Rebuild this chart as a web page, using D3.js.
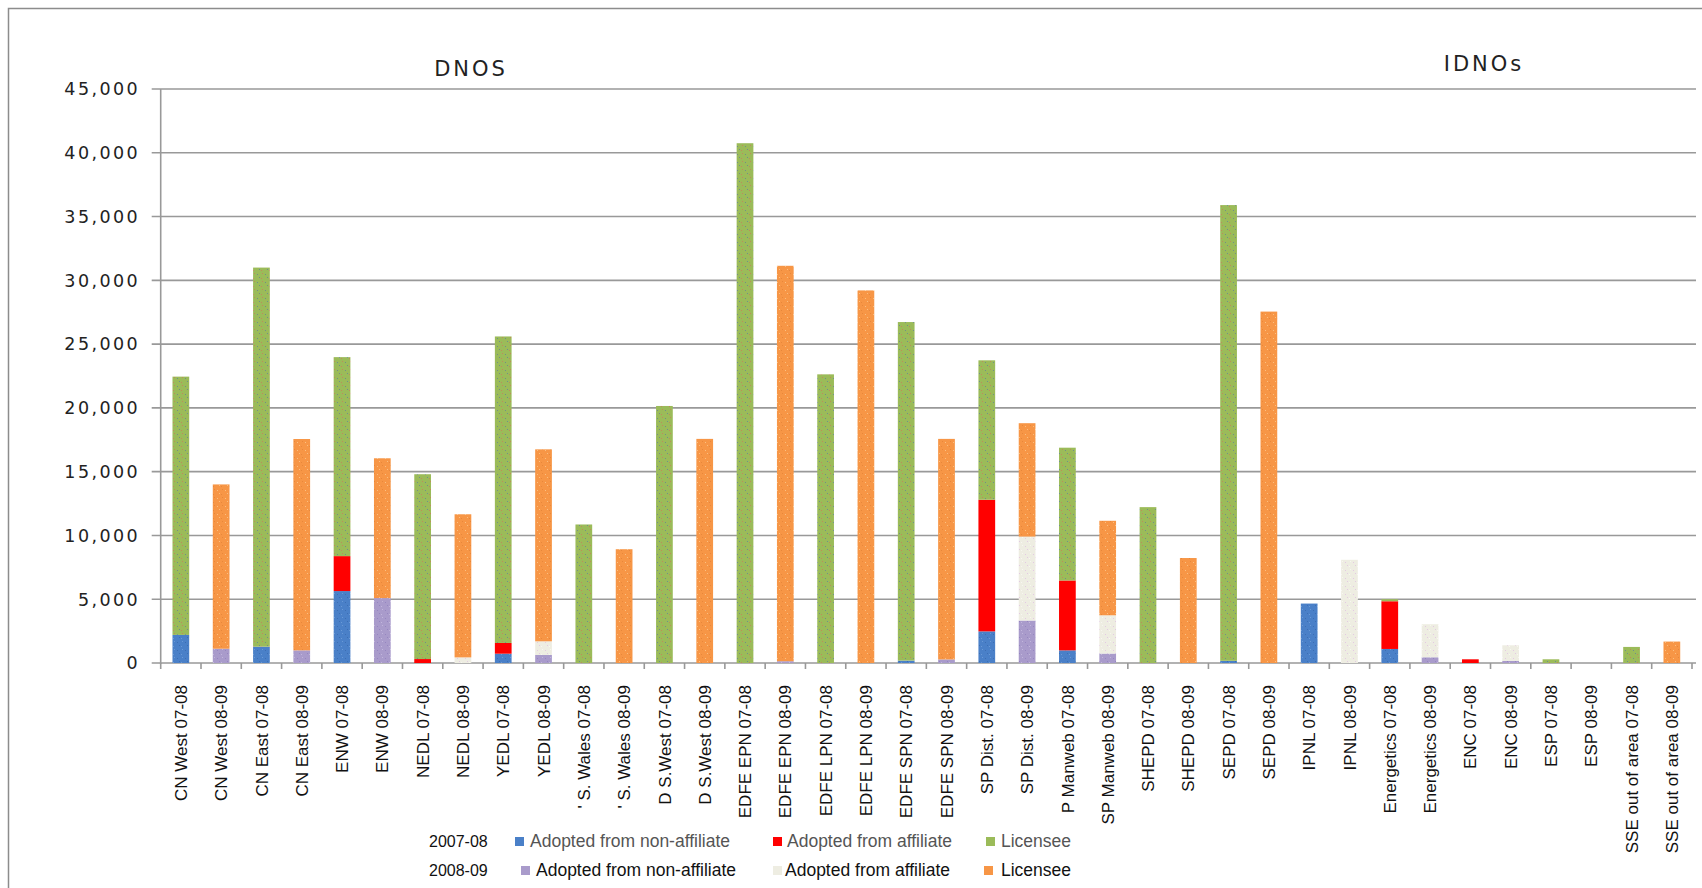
<!DOCTYPE html>
<html>
<head>
<meta charset="utf-8">
<script src="https://cdn.jsdelivr.net/npm/d3@7/dist/d3.min.js"></script>
<style>
  html, body { margin: 0; padding: 0; background: #fff; }
  svg { display: block; }
</style>
</head>
<body>
<svg id="chart" width="1702" height="888"></svg>
<script>
// ---------- DATA ----------
const categories = [
  "CN West 07-08", "CN West 08-09", "CN East 07-08", "CN East 08-09", "ENW 07-08",
  "ENW 08-09", "NEDL 07-08", "NEDL 08-09", "YEDL 07-08", "YEDL 08-09",
  "' S. Wales 07-08", "' S. Wales 08-09", "D S.West 07-08", "D S.West 08-09", "EDFE EPN 07-08",
  "EDFE EPN 08-09", "EDFE LPN 07-08", "EDFE LPN 08-09", "EDFE SPN 07-08", "EDFE SPN 08-09",
  "SP Dist. 07-08", "SP Dist. 08-09", "P Manweb 07-08", "SP Manweb 08-09", "SHEPD 07-08",
  "SHEPD 08-09", "SEPD 07-08", "SEPD 08-09", "IPNL 07-08", "IPNL 08-09",
  "Energetics 07-08", "Energetics 08-09", "ENC 07-08", "ENC 08-09", "ESP 07-08",
  "ESP 08-09", "SSE out of area 07-08", "SSE out of area 08-09"
];

// 2007-08 series
const adoptedNonAffiliate0708 = [
  2200, 0, 1280, 0, 5640, 0, 0, 0, 730, 0,
  0, 0, 0, 0, 0, 0, 0, 0, 190, 0,
  2480, 0, 990, 0, 0, 0, 170, 0, 4660, 0,
  1100, 0, 0, 0, 0, 0, 0, 0
];
const adoptedAffiliate0708 = [
  0, 0, 0, 0, 2740, 0, 310, 0, 840, 0,
  0, 0, 0, 0, 0, 0, 0, 0, 0, 0,
  10320, 0, 5480, 0, 0, 0, 0, 0, 0, 0,
  3740, 0, 290, 0, 0, 0, 0, 0
];
const licensee0708 = [
  20250, 0, 29720, 0, 15600, 0, 14490, 0, 24030, 0,
  10860, 0, 20150, 0, 40750, 0, 22630, 0, 26540, 0,
  10930, 0, 10410, 0, 12220, 0, 35730, 0, 0, 0,
  160, 0, 0, 0, 290, 0, 1260, 0
];
// 2008-09 series
const adoptedNonAffiliate0809 = [
  0, 1120, 0, 990, 0, 5090, 0, 0, 0, 630,
  0, 0, 0, 0, 0, 140, 0, 0, 0, 280,
  0, 3330, 0, 740, 0, 0, 0, 0, 0, 0,
  0, 450, 0, 160, 0, 0, 0, 0
];
const adoptedAffiliate0809 = [
  0, 0, 0, 0, 0, 0, 0, 440, 0, 1070,
  0, 0, 0, 0, 0, 0, 0, 0, 0, 0,
  0, 6580, 0, 3000, 0, 0, 0, 0, 0, 8090,
  0, 2590, 0, 1230, 0, 0, 0, 0
];
const licensee0809 = [
  0, 12880, 0, 16570, 0, 10960, 0, 11220, 0, 15050,
  0, 8920, 0, 17570, 0, 31000, 0, 29210, 0, 17290,
  0, 8890, 0, 7410, 0, 8230, 0, 27550, 0, 0,
  0, 0, 0, 0, 0, 0, 0, 1680
];

const yTicks = [0, 5000, 10000, 15000, 20000, 25000, 30000, 35000, 40000, 45000];
const groupTitles = ["DNOS", "IDNOs"];
const legendYears = ["2007-08", "2008-09"];
const legendNames = ["Adopted from non-affiliate", "Adopted from affiliate", "Licensee"];

// ---------- STYLE ----------
const seriesKeys = ["b07", "r07", "g07", "p08", "c08", "o08"];
const seriesArrays = [adoptedNonAffiliate0708, adoptedAffiliate0708, licensee0708,
                      adoptedNonAffiliate0809, adoptedAffiliate0809, licensee0809];
const seriesStyle = {
  b07: { base: "#4a80c8", dot: "#3b6db3", dot2: "#6a9ad6" },
  r07: { base: "#ff0000", dot: "#ff0000", dot2: "#ff0000" },
  g07: { base: "#9bbb59", dot: "#6f8f8a", dot2: "#c08a5a" },
  p08: { base: "#a99bcb", dot: "#9585c0", dot2: "#c2b6dc" },
  c08: { base: "#eeede2", dot: "#e3c9e3", dot2: "#f7f7f0" },
  o08: { base: "#f79646", dot: "#fbbf80", dot2: "#e8873a" }
};

const table = categories.map((c, i) => {
  const row = { cat: c };
  seriesKeys.forEach((k, j) => row[k] = seriesArrays[j][i]);
  return row;
});

const svg = d3.select("#chart");

// patterns for dotted texture
const defs = svg.append("defs");
seriesKeys.forEach(k => {
  const s = seriesStyle[k];
  const p = defs.append("pattern").attr("id", "pat-" + k)
    .attr("patternUnits", "userSpaceOnUse").attr("width", 8).attr("height", 8);
  p.append("rect").attr("width", 8).attr("height", 8).attr("fill", s.base);
  p.append("rect").attr("x", 1).attr("y", 2).attr("width", 1).attr("height", 1).attr("fill", s.dot);
  p.append("rect").attr("x", 5).attr("y", 6).attr("width", 1).attr("height", 1).attr("fill", s.dot2);
  p.append("rect").attr("x", 6).attr("y", 1).attr("width", 1).attr("height", 1).attr("fill", s.dot2);
  p.append("rect").attr("x", 3).attr("y", 5).attr("width", 1).attr("height", 1).attr("fill", s.dot);
});

// outer frame
svg.append("rect").attr("x", 8.5).attr("y", 8.5).attr("width", 1710).attr("height", 900)
  .attr("fill", "none").attr("stroke", "#8c8c8c").attr("stroke-width", 1.5);

const plotLeft = 160.7, plotRight = 1692, plotTop = 89, plotBottom = 663;

const x = d3.scaleBand().domain(categories).range([plotLeft, plotRight])
  .paddingInner(0.585).paddingOuter(0.2925);
const y = d3.scaleLinear().domain([0, 45000]).range([plotBottom, plotTop]);

// gridlines
svg.append("g").selectAll("line").data(yTicks).join("line")
  .attr("x1", plotLeft - 9).attr("x2", 1696)
  .attr("y1", d => y(d)).attr("y2", d => y(d))
  .attr("stroke", "#999").attr("stroke-width", 1.6);

// y-axis line
svg.append("line").attr("x1", plotLeft).attr("x2", plotLeft)
  .attr("y1", y(45000)).attr("y2", y(0) + 1)
  .attr("stroke", "#999").attr("stroke-width", 1.6);

// y tick labels
const fmt = d3.format(",");
svg.append("g").selectAll("text").data(yTicks).join("text")
  .attr("x", 140).attr("y", d => y(d)).attr("dy", "0.36em")
  .attr("text-anchor", "end")
  .style("font-family", "'DejaVu Sans', Verdana, sans-serif")
  .style("font-size", "17.5px").style("letter-spacing", "2.4px")
  .attr("fill", "#222").text(d => fmt(d));

// x-axis tick marks at category boundaries
const step = x.step();
const bounds = d3.range(categories.length + 1).map(i => plotLeft + i * step);
svg.append("g").selectAll("line").data(bounds).join("line")
  .attr("x1", d => d).attr("x2", d => d)
  .attr("y1", plotBottom).attr("y2", plotBottom + 6)
  .attr("stroke", "#999").attr("stroke-width", 1.6);

// stacked bars
const stack = d3.stack().keys(seriesKeys);
const layers = stack(table);
svg.append("g").selectAll("g").data(layers).join("g")
  .attr("fill", d => "url(#pat-" + d.key + ")")
  .selectAll("rect").data(d => d.filter(v => v[1] - v[0] > 0)).join("rect")
  .attr("x", d => x(d.data.cat))
  .attr("width", x.bandwidth())
  .attr("y", d => y(d[1]))
  .attr("height", d => y(d[0]) - y(d[1]));

// x labels
svg.append("g").selectAll("text").data(categories).join("text")
  .attr("transform", d => `translate(${x(d) + x.bandwidth() / 2},685) rotate(-90)`)
  .attr("dy", "0.36em")
  .attr("text-anchor", "end")
  .style("font-family", "'Liberation Sans', Arial, sans-serif")
  .style("font-size", "17px")
  .attr("fill", "#111").text(d => d);

// group titles
svg.append("text").attr("x", 471).attr("y", 76).attr("text-anchor", "middle")
  .style("font-family", "'DejaVu Sans', Verdana, sans-serif")
  .style("font-size", "21px").style("letter-spacing", "3px")
  .attr("fill", "#222").text(groupTitles[0]);
svg.append("text").attr("x", 1484).attr("y", 71).attr("text-anchor", "middle")
  .style("font-family", "'DejaVu Sans', Verdana, sans-serif")
  .style("font-size", "21px").style("letter-spacing", "3px")
  .attr("fill", "#222").text(groupTitles[1]);

// legend
const legendRows = [
  { year: legendYears[0], y: 841, keys: ["b07", "r07", "g07"], sq: [519, 777, 990], tx: [530, 787, 1001], color: "#555" },
  { year: legendYears[1], y: 870, keys: ["p08", "c08", "o08"], sq: [525, 777, 988], tx: [536, 785, 1001], color: "#111" }
];
const lg = svg.append("g");
legendRows.forEach(r => {
  lg.append("text").attr("x", 429).attr("y", r.y).attr("dy", "0.36em")
    .style("font-family", "'Liberation Sans', Arial, sans-serif")
    .style("font-size", "16px").attr("fill", "#111").text(r.year);
  r.keys.forEach((k, j) => {
    lg.append("rect").attr("x", r.sq[j] - 4).attr("y", r.y - 4).attr("width", 9).attr("height", 9)
      .attr("fill", seriesStyle[k].base);
    lg.append("text").attr("x", r.tx[j]).attr("y", r.y).attr("dy", "0.36em")
      .style("font-family", "'Liberation Sans', Arial, sans-serif")
      .style("font-size", "17.5px").attr("fill", r.color).text(legendNames[j]);
  });
});
</script>
</body>
</html>
